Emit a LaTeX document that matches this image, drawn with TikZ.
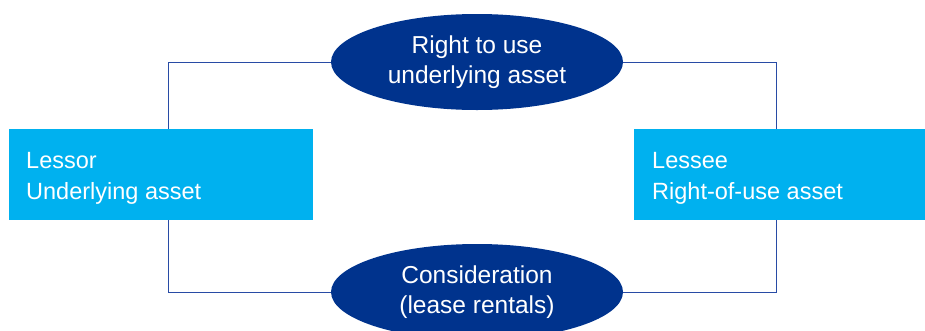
\documentclass[tikz,border=0pt]{standalone}
\usepackage{fontspec}
\setmainfont{Liberation Sans}
\usetikzlibrary{shapes.geometric}
\definecolor{kblue}{HTML}{00338D}
\definecolor{klight}{HTML}{00B1EF}
\definecolor{kline}{RGB}{40,75,165}
\begin{document}
\begin{tikzpicture}[x=1pt,y=-1pt,
  partybox/.style={fill=klight, draw=none, minimum height=91pt, inner sep=0pt},
  boxtext/.style={text=white, inner sep=0pt, font=\fontsize{23.5}{28}\selectfont},
  oval/.style={ellipse, fill=kblue, draw=none, text=white, minimum width=292pt, minimum height=96pt, inner sep=0pt, align=center, font=\fontsize{24.5}{30}\selectfont},
  conn/.style={draw=kline, line width=0.9pt}]
\useasboundingbox (0,0) rectangle (925,330);
\clip (0,0) rectangle (925,330);
\node[partybox, minimum width=304pt] (lessor) at (161,174.5) {};
\node[partybox, minimum width=291pt] (lessee) at (779.5,174.5) {};
\node[boxtext, anchor=base west] (lessorname) at (26,168) {Lessor};
\node[boxtext, anchor=base west] (lessorasset) at (26,199) {Underlying asset};
\node[boxtext, anchor=base west] (lesseename) at (652,168) {Lessee};
\node[boxtext, anchor=base west] (lesseeasset) at (652,199) {Right-of-use asset};
\node[oval] (right) at (477,62) {Right to use\\underlying asset};
\node[oval] (consid) at (477,292) {Consideration\\(lease rentals)};
\draw[conn] (right.west) -| ([xshift=7pt]lessor.north);
\draw[conn] (right.east) -| ([xshift=-3.5pt]lessee.north);
\draw[conn] ([xshift=7pt]lessor.south) |- (consid.west);
\draw[conn] ([xshift=-3.5pt]lessee.south) |- (consid.east);
\end{tikzpicture}
\end{document}
